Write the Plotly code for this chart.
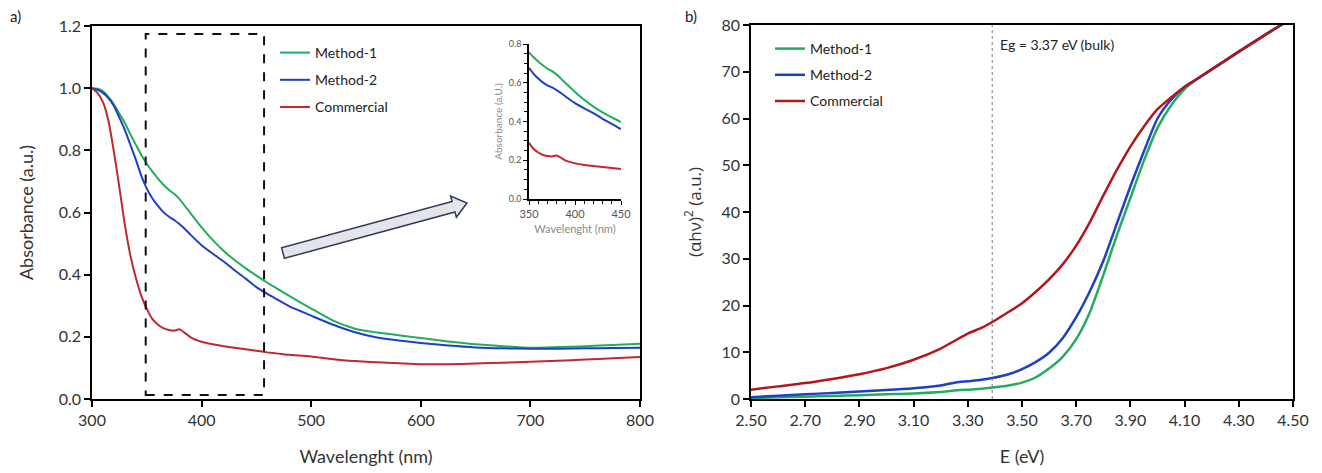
import math
import plotly.graph_objects as go

# ---------------- data: panel a) absorbance ----------------
wavelength = [300, 305, 310, 315, 320, 325, 330, 335, 340, 345, 350, 355, 360, 365, 370,
              375, 380, 385, 390, 400, 410, 420, 430, 440, 450, 460, 470, 480, 490, 500,
              520, 540, 560, 580, 600, 625, 650, 675, 700, 725, 750, 775, 800]
abs_method1 = [1.000, 0.998, 0.990, 0.972, 0.948, 0.918, 0.888, 0.852, 0.818, 0.785, 0.757,
               0.732, 0.710, 0.690, 0.673, 0.660, 0.642, 0.620, 0.597, 0.552, 0.512, 0.477,
               0.447, 0.421, 0.397, 0.374, 0.353, 0.332, 0.311, 0.291, 0.252, 0.226, 0.214,
               0.205, 0.196, 0.185, 0.176, 0.170, 0.165, 0.167, 0.170, 0.174, 0.178]
abs_method2 = [1.000, 0.995, 0.985, 0.968, 0.943, 0.905, 0.865, 0.818, 0.770, 0.718, 0.677,
               0.646, 0.622, 0.602, 0.587, 0.576, 0.562, 0.546, 0.528, 0.495, 0.468, 0.443,
               0.414, 0.388, 0.360, 0.338, 0.318, 0.298, 0.283, 0.268, 0.239, 0.215, 0.198,
               0.188, 0.180, 0.172, 0.166, 0.163, 0.162, 0.162, 0.163, 0.164, 0.165]
abs_commercial = [1.000, 0.985, 0.955, 0.895, 0.795, 0.680, 0.560, 0.462, 0.390, 0.332, 0.290,
                  0.258, 0.240, 0.228, 0.222, 0.220, 0.224, 0.212, 0.198, 0.184, 0.176, 0.170,
                  0.165, 0.160, 0.155, 0.150, 0.146, 0.142, 0.140, 0.137, 0.128, 0.122, 0.118,
                  0.115, 0.112, 0.112, 0.114, 0.117, 0.120, 0.123, 0.127, 0.131, 0.135]

# ---------------- data: panel b) Tauc plot ----------------
energy = [2.50, 2.60, 2.70, 2.80, 2.90, 3.00, 3.10, 3.20, 3.25, 3.30, 3.35, 3.40, 3.45, 3.50,
          3.55, 3.60, 3.65, 3.70, 3.75, 3.80, 3.85, 3.90, 3.95, 4.00, 4.05, 4.10, 4.15, 4.20,
          4.30, 4.40, 4.47]
tauc_method1 = [0.2, 0.35, 0.5, 0.65, 0.8, 1.0, 1.2, 1.5, 1.8, 2.0, 2.2, 2.5, 2.9, 3.5,
                4.6, 6.5, 9.0, 12.8, 18.5, 26.5, 35.0, 43.0, 51.0, 58.0, 62.8, 66.3, 68.6, 70.5,
                74.3, 78.0, 80.5]
tauc_method2 = [0.4, 0.7, 1.0, 1.3, 1.6, 1.9, 2.3, 2.9, 3.5, 3.8, 4.1, 4.6, 5.3, 6.4,
                7.9, 9.9, 13.0, 17.5, 23.0, 29.5, 37.5, 45.5, 53.0, 60.0, 64.0, 66.8, 68.6, 70.5,
                74.3, 78.0, 80.5]
tauc_commercial = [2.0, 2.7, 3.4, 4.3, 5.3, 6.6, 8.4, 10.8, 12.4, 14.0, 15.2, 16.8, 18.6, 20.5,
                   22.9, 25.6, 28.8, 32.8, 37.8, 43.5, 49.0, 54.0, 58.3, 62.0, 64.5, 66.8, 68.6, 70.5,
                   74.3, 78.0, 80.5]

series_names = ["Method-1", "Method-2", "Commercial"]
eg_bulk = 3.39          # position of the dotted bulk-gap marker
eg_label = "Eg = 3.37 eV (bulk)"
zoom_window = [349, 457, 0.013, 1.174]   # dashed box: x0, x1, y0, y1
inset_range = [350, 450]

colors_a = ["#22ad5c", "#1f3fc4", "#c0282c"]
colors_b = ["#22ad5c", "#1f3fc4", "#b3161b"]

W, H = 1322, 473
OFF = 8   # page body margin
FONT = "Lato, Open Sans, sans-serif"


def px(x):
    return (x - OFF) / W


def py(y):
    return 1 - (y - OFF) / H


fig = go.Figure()

abs_series = [abs_method1, abs_method2, abs_commercial]
tauc_series = [tauc_method1, tauc_method2, tauc_commercial]

for i, name in enumerate(series_names):
    fig.add_trace(go.Scatter(x=wavelength, y=abs_series[i], name=name, mode="lines",
                             line=dict(color=colors_a[i], width=2, shape="spline", smoothing=0.6),
                             xaxis="x", yaxis="y", legend="legend", legendgroup="a" + str(i)))
for i, name in enumerate(series_names):
    fig.add_trace(go.Scatter(x=energy, y=tauc_series[i], name=name, mode="lines",
                             line=dict(color=colors_b[i], width=2.5, shape="spline", smoothing=0.6),
                             xaxis="x2", yaxis="y2", legend="legend2", legendgroup="b" + str(i)))
# inset
for i, name in enumerate(series_names):
    xs = [w for w in wavelength if inset_range[0] <= w <= inset_range[1]]
    ys = [v for w, v in zip(wavelength, abs_series[i]) if inset_range[0] <= w <= inset_range[1]]
    fig.add_trace(go.Scatter(x=xs, y=ys, name=name, mode="lines", showlegend=False,
                             line=dict(color=colors_a[i], width=2, shape="spline", smoothing=0.6),
                             xaxis="x3", yaxis="y3"))

axis_common = dict(showline=True, linecolor="black", linewidth=1.5, mirror=True,
                   ticks="outside", ticklen=6, tickwidth=1.5, tickcolor="black",
                   showgrid=False, zeroline=False,
                   tickfont=dict(family=FONT, size=16, color="#333333"),
                   automargin=False)

fig.update_layout(
    width=W, height=H,
    margin=dict(l=0, r=0, t=0, b=0),
    paper_bgcolor="white", plot_bgcolor="white",
    font=dict(family=FONT, color="#222222"),
    xaxis=dict(domain=[px(92), px(640)], range=[300, 800], dtick=100, anchor="y",
               title=dict(text="Wavelenght (nm)", font=dict(family=FONT, size=18, color="#333333"),
                          standoff=22),
               **axis_common),
    yaxis=dict(domain=[py(399), py(26)], range=[0, 1.2], dtick=0.2, tickformat=".1f", anchor="x",
               title=dict(text="Absorbance (a.u.)", font=dict(family=FONT, size=18, color="#333333"),
                          standoff=20),
               **axis_common),
    xaxis2=dict(domain=[px(751), px(1293)], range=[2.5, 4.5], tick0=2.5, dtick=0.2,
                tickformat=".2f", anchor="y2",
                title=dict(text="E (eV)", font=dict(family=FONT, size=18, color="#333333"),
                           standoff=22),
                **axis_common),
    yaxis2=dict(domain=[py(399), py(25)], range=[0, 80], dtick=10, anchor="x2",
                title=dict(text="(αhν)<sup>2</sup> (a.u.)",
                           font=dict(family="Open Sans, sans-serif", size=17, color="#333333"),
                           standoff=16),
                **axis_common),
    xaxis3=dict(domain=[px(529), px(621)], range=inset_range, dtick=50, anchor="y3",
                showline=True, linecolor="black", linewidth=1.5, mirror=False,
                ticks="outside", ticklen=4, tickwidth=1, tickcolor="black",
                minor=dict(dtick=10, ticks="outside", ticklen=3, tickcolor="black"),
                showgrid=False, zeroline=False, automargin=False,
                tickfont=dict(family=FONT, size=11, color="#555555"),
                title=dict(text="Wavelenght (nm)", font=dict(family=FONT, size=11, color="#8a8a8a"),
                           standoff=6)),
    yaxis3=dict(domain=[py(199), py(44)], range=[0, 0.8], dtick=0.2, tickformat=".1f",
                anchor="x3",
                showline=True, linecolor="black", linewidth=1.5, mirror=False,
                ticks="outside", ticklen=4, tickwidth=1, tickcolor="black",
                minor=dict(dtick=0.05, ticks="outside", ticklen=3, tickcolor="black"),
                showgrid=False, zeroline=False, automargin=False,
                tickfont=dict(family=FONT, size=9, color="#555555"),
                title=dict(text="Absorbance (a.U.)", font=dict(family=FONT, size=10, color="#8a8a8a"),
                           standoff=4)),
    legend=dict(x=px(275), y=py(37), xanchor="left", yanchor="top",
                bgcolor="rgba(0,0,0,0)", borderwidth=0, tracegroupgap=6,
                font=dict(family=FONT, size=14, color="#222222")),
    legend2=dict(x=px(770), y=py(33), xanchor="left", yanchor="top",
                 bgcolor="rgba(0,0,0,0)", borderwidth=0, tracegroupgap=5,
                 font=dict(family=FONT, size=14, color="#222222")),
)

shapes = []
# dashed zoom box
shapes.append(dict(type="rect", xref="x", yref="y",
                   x0=zoom_window[0], x1=zoom_window[1], y0=zoom_window[2], y1=zoom_window[3],
                   line=dict(color="#111111", width=2, dash="dash"), fillcolor="rgba(0,0,0,0)"))
# bulk gap dotted line
shapes.append(dict(type="line", xref="x2", yref="y2 domain", x0=eg_bulk, x1=eg_bulk, y0=0, y1=1,
                   line=dict(color="#777777", width=1, dash="dot")))

# block arrow (pixel geometry -> paper)
tx, ty = 283, 253
hx, hy = 467, 203
dx, dy = hx - tx, hy - ty
L = math.hypot(dx, dy)
ux, uy = dx / L, dy / L
nx, ny = -uy, ux
shaft_half, head_half, head_len = 5.5, 11, 14
bx, by = hx - ux * head_len, hy - uy * head_len
pts = [
    (tx + nx * shaft_half, ty + ny * shaft_half),
    (bx + nx * shaft_half, by + ny * shaft_half),
    (bx + nx * head_half, by + ny * head_half),
    (hx, hy),
    (bx - nx * head_half, by - ny * head_half),
    (bx - nx * shaft_half, by - ny * shaft_half),
    (tx - nx * shaft_half, ty - ny * shaft_half),
]
path = "M " + " L ".join(f"{px(a):.5f},{py(b):.5f}" for a, b in pts) + " Z"
shapes.append(dict(type="path", xref="paper", yref="paper", path=path,
                   fillcolor="#e4e4ea", line=dict(color="#2e3c58", width=1.5)))
fig.update_layout(shapes=shapes)

annotations = [
    dict(text="a)", xref="paper", yref="paper", x=px(8), y=py(16), xanchor="left",
         yanchor="middle", showarrow=False, font=dict(family=FONT, size=15, color="#222222")),
    dict(text="b)", xref="paper", yref="paper", x=px(683), y=py(16), xanchor="left",
         yanchor="middle", showarrow=False, font=dict(family=FONT, size=15, color="#222222")),
    dict(text=eg_label, xref="x2", yref="y2 domain", x=eg_bulk, y=0.947, xanchor="left",
         xshift=6, yanchor="middle", showarrow=False,
         font=dict(family=FONT, size=14, color="#222222")),
]
fig.update_layout(annotations=annotations)

fig.write_html("out.html")
